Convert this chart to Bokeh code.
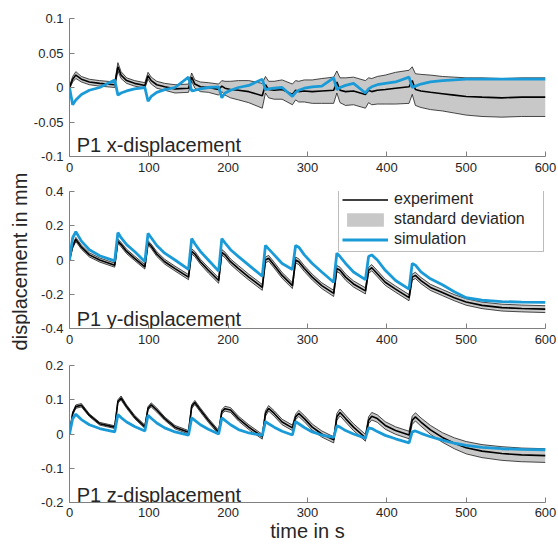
import numpy as np
from bokeh.plotting import figure
from bokeh.layouts import column, row
from bokeh.models import FixedTicker, Label, Legend, LegendItem, Range1d
from bokeh.embed import file_html
from bokeh.resources import INLINE

# ---------------- data ----------------
t = [0, 4, 8, 15, 25, 38,
     57, 61, 65, 72, 82,
     95, 99, 103, 110, 120, 133,
     150, 154, 158, 165, 175,
     188, 192, 196, 203, 213, 226,
     243, 247, 251, 258, 268,
     281, 285, 289, 296, 306, 318,
     333, 337, 341, 348, 358,
     373, 377, 381, 388, 398, 411,
     428, 432, 436, 443, 455, 470, 485, 500, 520, 545, 570, 600]

# P1 x-displacement
x_exp = [0.0, 0.012, 0.018, 0.012, 0.008, 0.006,
         0.004, 0.03, 0.018, 0.01, 0.006,
         0.003, 0.017, 0.01, 0.004, 0.001, -0.002,
         -0.001, 0.015, 0.005, 0.001, 0.0,
         -0.003, 0.002, -0.001, -0.003, -0.004, -0.006,
         -0.012, 0.004, -0.003, -0.004, -0.003,
         -0.01, -0.004, -0.006, -0.005, -0.006, -0.005,
         -0.004, 0.008, -0.004, -0.006, -0.005,
         -0.01, -0.004, -0.006, -0.004, -0.003, -0.001,
         0.001, 0.01, -0.003, -0.005, -0.007, -0.009, -0.011, -0.013, -0.014, -0.015, -0.014, -0.014]
x_std = [0.002, 0.004, 0.005, 0.004, 0.004, 0.004,
         0.004, 0.006, 0.005, 0.004, 0.004,
         0.004, 0.005, 0.005, 0.005, 0.005, 0.006,
         0.006, 0.006, 0.006, 0.007, 0.007,
         0.008, 0.008, 0.01, 0.012, 0.014, 0.016,
         0.018, 0.012, 0.012, 0.013, 0.014,
         0.015, 0.014, 0.015, 0.016, 0.017, 0.018,
         0.019, 0.016, 0.018, 0.02, 0.02,
         0.02, 0.018, 0.019, 0.02, 0.021, 0.023,
         0.024, 0.02, 0.023, 0.024, 0.025, 0.025, 0.026, 0.027, 0.028, 0.028, 0.028, 0.028]
x_sim = [0.0, -0.025, -0.018, -0.01, -0.004, 0.0,
         0.011, -0.011, -0.008, -0.005, -0.002,
         0.0, -0.02, -0.013, -0.007, -0.003, 0.0,
         0.015, -0.005, -0.004, -0.002, 0.0,
         0.001, -0.015, -0.008, -0.004, 0.0, 0.003,
         0.012, -0.003, -0.002, -0.001, 0.0,
         -0.013, -0.007, -0.004, -0.001, 0.001, 0.002,
         0.014, -0.003, 0.0, 0.003, 0.006,
         -0.008, -0.002, 0.001, 0.004, 0.006, 0.008,
         0.015, 0.0, 0.002, 0.005, 0.008, 0.01, 0.011, 0.012, 0.012, 0.012, 0.012, 0.012]

# P1 y-displacement
y_exp = [0.0, 0.08, 0.12, 0.075, 0.03, 0.0,
         -0.03, 0.11, 0.09, 0.05, 0.01,
         -0.04, 0.10, 0.08, 0.035, -0.01, -0.05,
         -0.10, 0.05, 0.035, -0.01, -0.06,
         -0.12, 0.045, 0.03, -0.01, -0.05, -0.10,
         -0.16, 0.0, 0.01, -0.03, -0.09,
         -0.15, 0.0, -0.01, -0.05, -0.10, -0.15,
         -0.195, -0.05, -0.06, -0.10, -0.14,
         -0.18, -0.06, -0.045, -0.08, -0.13, -0.17,
         -0.22, -0.10, -0.09, -0.12, -0.16, -0.19, -0.22, -0.245, -0.265, -0.278, -0.283, -0.287]
y_std = [0.005, 0.01, 0.012, 0.012, 0.012, 0.012,
         0.012, 0.012, 0.013, 0.013, 0.013,
         0.013, 0.013, 0.013, 0.014, 0.014, 0.014,
         0.015, 0.015, 0.015, 0.015, 0.016,
         0.016, 0.016, 0.016, 0.016, 0.017, 0.017,
         0.017, 0.017, 0.017, 0.017, 0.017,
         0.017, 0.017, 0.017, 0.017, 0.017, 0.017,
         0.018, 0.018, 0.018, 0.018, 0.018,
         0.018, 0.018, 0.018, 0.018, 0.018, 0.018,
         0.018, 0.018, 0.018, 0.018, 0.018, 0.018, 0.018, 0.019, 0.019, 0.02, 0.02, 0.02]
y_sim = [0.0, 0.13, 0.165, 0.11, 0.06, 0.025,
         -0.005, 0.16, 0.13, 0.09, 0.05,
         -0.01, 0.155, 0.13, 0.085, 0.04, 0.0,
         -0.055, 0.125, 0.095, 0.05, 0.0,
         -0.065, 0.125, 0.10, 0.06, 0.02, -0.03,
         -0.095, 0.085, 0.065, 0.03, -0.02,
         -0.055, 0.085, 0.075, 0.03, -0.02, -0.07,
         -0.13, 0.04, 0.02, -0.02, -0.07,
         -0.115, 0.02, 0.03, 0.0, -0.06, -0.12,
         -0.17, -0.02, -0.03, -0.07, -0.11, -0.145, -0.185, -0.22, -0.235, -0.243, -0.246, -0.248]

# P1 z-displacement
z_exp = [0.0, 0.06, 0.08, 0.084, 0.055, 0.03,
         0.02, 0.095, 0.105, 0.08, 0.05,
         0.021, 0.075, 0.085, 0.07, 0.045, 0.02,
         0.005, 0.08, 0.092, 0.07, 0.04,
         0.005, 0.065, 0.074, 0.07, 0.045, 0.02,
         -0.008, 0.06, 0.075, 0.06, 0.035,
         0.018, 0.05, 0.06, 0.045, 0.02, 0.0,
         -0.017, 0.05, 0.063, 0.045, 0.02,
         -0.011, 0.04, 0.052, 0.045, 0.025, 0.01,
         -0.003, 0.04, 0.05, 0.035, 0.012, -0.01, -0.027, -0.04, -0.05, -0.057, -0.061, -0.063]
z_std = [0.002, 0.004, 0.005, 0.005, 0.004, 0.004,
         0.004, 0.005, 0.006, 0.005, 0.005,
         0.005, 0.005, 0.006, 0.006, 0.005, 0.005,
         0.005, 0.006, 0.006, 0.006, 0.006,
         0.006, 0.006, 0.007, 0.007, 0.007, 0.007,
         0.007, 0.008, 0.008, 0.008, 0.008,
         0.008, 0.008, 0.009, 0.009, 0.009, 0.009,
         0.009, 0.01, 0.01, 0.01, 0.01,
         0.01, 0.01, 0.011, 0.011, 0.011, 0.011,
         0.011, 0.012, 0.012, 0.012, 0.013, 0.014, 0.016, 0.018, 0.019, 0.02, 0.02, 0.02]
z_sim = [0.0, 0.045, 0.058, 0.042, 0.027, 0.016,
         0.006, 0.057, 0.048, 0.035, 0.022,
         0.009, 0.055, 0.046, 0.032, 0.018, 0.006,
         -0.003, 0.047, 0.04, 0.027, 0.014,
         0.0, 0.047, 0.04, 0.027, 0.013, 0.003,
         -0.004, 0.036, 0.03, 0.02, 0.008,
         -0.003, 0.036, 0.03, 0.019, 0.006, -0.003,
         -0.01, 0.024, 0.02, 0.01, 0.0,
         -0.012, 0.018, 0.016, 0.007, -0.004, -0.014,
         -0.026, 0.006, 0.009, 0.002, -0.008, -0.018, -0.027, -0.033, -0.039, -0.043, -0.045, -0.046]

x_ticks = [0, 100, 200, 300, 400, 500, 600]
x_tick_labels = ["0", "100", "200", "300", "400", "500", "600"]
x_panel_ticks = [-0.1, -0.05, 0, 0.05, 0.1]
x_panel_labels = ["-0.1", "-0.05", "0", "0.05", "0.1"]
y_panel_ticks = [-0.4, -0.2, 0, 0.2, 0.4]
y_panel_labels = ["-0.4", "-0.2", "0", "0.2", "0.4"]
z_panel_ticks = [-0.2, -0.1, 0, 0.1, 0.2]
z_panel_labels = ["-0.2", "-0.1", "0", "0.1", "0.2"]

titles = ["P1 x-displacement", "P1 y-displacement", "P1 z-displacement"]
legend_labels = ["experiment", "standard deviation", "simulation"]
x_label = "time in s"
y_label = "displacement in mm"

# ---------------- styling ----------------
FONT = "Liberation Sans"
AXIS_COL = "#808080"
TEXT_COL = "#262626"
BLUE = "#1a9bd7"
GRAY = "#c8c8c8"
LABEL_W = 30
W = 558 - LABEL_W
LEFT, RIGHT = 69 - LABEL_W, 13
TOTAL_H = 544


def panel(exp, std, sim, yr, yt, yl, title, title_y, height, top, bottom):
    p = figure(width=W, height=height, output_backend="svg", toolbar_location=None,
               x_range=Range1d(0, 600), y_range=Range1d(*yr),
               min_border_left=LEFT, min_border_right=RIGHT,
               min_border_top=top, min_border_bottom=bottom)
    p.outline_line_color = None
    p.grid.visible = False
    p.background_fill_color = "white"
    p.border_fill_color = "white"
    for ax in (p.xaxis[0], p.yaxis[0]):
        ax.axis_line_color = AXIS_COL
        ax.major_tick_line_color = AXIS_COL
        ax.minor_tick_line_color = None
        ax.major_tick_in = 5
        ax.major_tick_out = 0
        ax.major_label_text_font = FONT
        ax.major_label_text_font_size = "13px"
        ax.major_label_text_color = TEXT_COL
        ax.major_label_standoff = 6
        ax.axis_label_text_font = FONT
        ax.axis_label_text_font_size = "20px"
        ax.axis_label_text_font_style = "normal"
        ax.axis_label_text_color = TEXT_COL
    p.xaxis.ticker = FixedTicker(ticks=x_ticks)
    p.xaxis.major_label_overrides = dict(zip(x_ticks, x_tick_labels))
    p.yaxis.ticker = FixedTicker(ticks=yt)
    p.yaxis.major_label_overrides = dict(zip(yt, yl))

    lo = [m - s for m, s in zip(exp, std)]
    hi = [m + s for m, s in zip(exp, std)]
    band = p.varea(x=t, y1=lo, y2=hi, fill_color=GRAY)
    p.line(t, lo, line_color="black", line_width=0.7)
    p.line(t, hi, line_color="black", line_width=0.7)
    e = p.line(t, exp, line_color="black", line_width=1.6)
    s = p.line(t, sim, line_color=BLUE, line_width=2.8)
    p.add_layout(Label(x=9, y=title_y, text=title, text_font=FONT,
                       text_font_size="20px", text_color=TEXT_COL,
                       text_baseline="alphabetic"))
    return p, e, band, s


f1, _, _, _ = panel(x_exp, x_std, x_sim, (-0.1, 0.1), x_panel_ticks, x_panel_labels,
                    titles[0], -0.084, 181, 18, 25)
f2, e2, b2, s2 = panel(y_exp, y_std, y_sim, (-0.4, 0.4), y_panel_ticks, y_panel_labels,
                       titles[1], -0.342, 174, 10, 27)
f3, _, _, _ = panel(z_exp, z_std, z_sim, (-0.2, 0.2), z_panel_ticks, z_panel_labels,
                    titles[2], -0.177, 189, 10, 41)

legend = Legend(items=[LegendItem(label=legend_labels[0], renderers=[e2]),
                       LegendItem(label=legend_labels[1], renderers=[b2]),
                       LegendItem(label=legend_labels[2], renderers=[s2])],
                location=(269, 76), orientation="vertical",
                label_text_font=FONT, label_text_font_size="16px", label_text_color=TEXT_COL,
                glyph_width=46, glyph_height=17, label_height=17, label_width=146,
                label_standoff=6, spacing=2, padding=3, margin=0,
                border_line_color="#7a7a7a", border_line_width=1,
                background_fill_color="white", background_fill_alpha=1.0)
f2.add_layout(legend)

f3.xaxis.axis_label = x_label
f3.xaxis.axis_label_standoff = 0
f3.xaxis.major_label_standoff = 5

# narrow strip carrying the common y-axis label
lab = figure(width=LABEL_W, height=TOTAL_H, output_backend="svg", toolbar_location=None,
             x_range=Range1d(0, LABEL_W), y_range=Range1d(0, TOTAL_H),
             x_axis_type=None, y_axis_type=None,
             min_border_left=0, min_border_right=0, min_border_top=0, min_border_bottom=0)
lab.outline_line_color = None
lab.grid.visible = False
lab.border_fill_color = "white"
lab.add_layout(Label(x=19, y=TOTAL_H - 261, text=y_label, angle=np.pi / 2,
                     text_font=FONT, text_font_size="20px", text_color=TEXT_COL,
                     text_align="center", text_baseline="middle"))

layout = row(lab, column(f1, f2, f3, spacing=0), spacing=0)
open("out.html", "w").write(file_html(layout, INLINE))
